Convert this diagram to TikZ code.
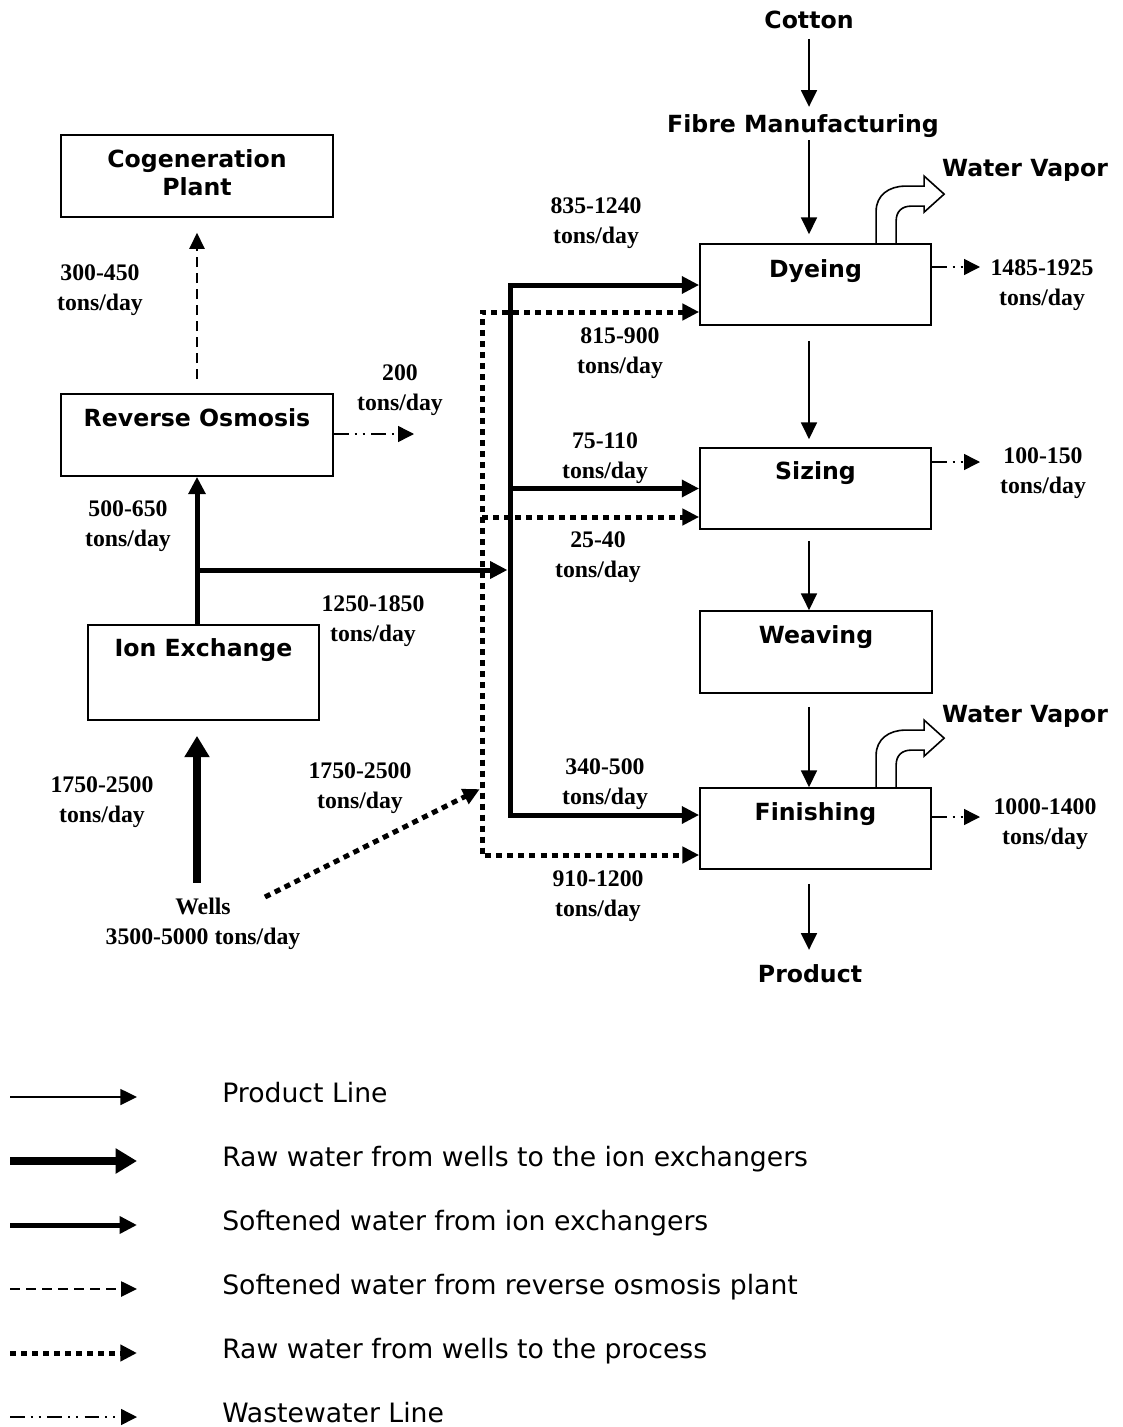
\documentclass[tikz,border=0pt]{standalone}
\usepackage{fontspec}
\newfontfamily\dvs{DejaVu Sans}
\newfontfamily\lsr{Liberation Serif}
\usetikzlibrary{arrows.meta}
\tikzset{
  box/.style={draw, line width=1.3pt, minimum width=173.25pt, minimum height=60.75pt, inner sep=0pt},
  btxt/.style={font={\dvs\bfseries\fontsize{17.7}{21}\selectfont}, inner sep=0pt, text height=12.9pt, text depth=0pt},
  btxttwo/.style={font={\dvs\bfseries\fontsize{17.7}{21}\selectfont}, inner sep=0pt, align=center},
  num/.style={font={\lsr\bfseries\fontsize{17.8}{22.5}\selectfont}, align=center, inner sep=0pt},
  legtxt/.style={font={\dvs\fontsize{20}{24}\selectfont}, anchor=west, inner sep=0pt, text height=14.6pt, text depth=0pt},
  prod/.style={line width=1.1pt, -{Triangle[length=12.5pt,width=12pt]}},
  raw/.style={line width=6pt, -{Triangle[length=16pt,width=18pt]}},
  soft/.style={line width=3.75pt, -{Triangle[length=13pt,width=12.5pt]}},
  softtwo/.style={line width=3.75pt, {Triangle[length=13pt,width=12.5pt]}-{Triangle[length=13pt,width=12.5pt]}},
  rowater/.style={line width=1.2pt, dash pattern=on 7.5pt off 4.5pt, -{Triangle[length=12pt,width=11.5pt]}},
  dotline/.style={line width=3.75pt, dash pattern=on 4.5pt off 3.75pt, -{Triangle[length=12.5pt,width=12pt]}},
  dottwo/.style={line width=3.75pt, dash pattern=on 4.5pt off 3.75pt, {Triangle[length=12.5pt,width=12pt]}-{Triangle[length=12.5pt,width=12pt]}},
  waste/.style={line width=1.1pt, dash pattern=on 11pt off 4.5pt on 1.5pt off 4.5pt on 1.5pt off 5pt, -{Triangle[length=12pt,width=12pt]}},
  vaporline/.style={line width=1.2pt, line join=miter},
  vapor/.pic={\draw[vaporline] (0,0) -- (0,-32) .. controls (0,-48) and (13,-57) .. (29,-57) -- (48,-57) -- (48,-67) -- (68,-49) -- (48,-31) -- (48,-37) -- (35,-37) .. controls (26,-37) and (20,-32) .. (20,-22) -- (20,0);}
}
\begin{document}
\begin{tikzpicture}[x=0.75pt,y=-0.75pt]
\useasboundingbox (0,0) rectangle (1122,1427);

% boxes
\node[box, minimum width=204pt, minimum height=61.5pt] (cog) at (197,176) {};
\node[box, minimum width=204pt, minimum height=61.5pt] (ro) at (197,435) {};
\node[box, minimum height=71.25pt] (ion) at (203.5,672.5) {};
\node[box] (dye) at (815.5,284.5) {};
\node[box] (siz) at (815.5,488.5) {};
\node[box, minimum width=174pt, minimum height=61.5pt] (wea) at (816,652) {};
\node[box] (fin) at (815.5,828.5) {};

\node[btxttwo] (cogT) at ([yshift=-29.25pt]cog.north) {Cogeneration\\Plant};
\node[btxt] (roT) at ([yshift=-18.75pt]ro.north) {Reverse Osmosis};
\node[btxt] (ionT) at ([yshift=-18pt]ion.north) {Ion Exchange};
\node[btxt] (dyeT) at ([yshift=-19.5pt]dye.north) {Dyeing};
\node[btxt] (sizT) at ([yshift=-18pt]siz.north) {Sizing};
\node[btxt] (weaT) at ([yshift=-18.75pt]wea.north) {Weaving};
\node[btxt] (finT) at ([yshift=-18.75pt]fin.north) {Finishing};

% free texts
\node[btxt] (cot) at (809,20) {Cotton};
\node[btxt] (fib) at (803,124) {Fibre Manufacturing};
\node[btxt] (prd) at (810,974) {Product};
\node[btxt] (wv1) at (1025,168) {Water Vapor};
\node[btxt] (wv2) at (1025,714) {Water Vapor};

% water vapor arrows
\pic at ([xshift=132.75pt]dye.north west) {vapor};
\pic at ([xshift=132.75pt]fin.north west) {vapor};

% product line
\draw[prod, shorten <=7.5pt, shorten >=6.25pt] (cot.south) -- (cot.south |- fib.north);
\draw[prod, shorten <=5.5pt, shorten >=6.75pt] (cot.south |- fib.south) -- (cot.south |- dye.north);
\draw[prod, shorten <=11.25pt, shorten >=6pt] (cot.south |- dye.south) -- (cot.south |- siz.north);
\draw[prod, shorten <=8.25pt] (cot.south |- siz.south) -- (cot.south |- wea.north);
\draw[prod, shorten <=9.75pt] (cot.south |- wea.south) -- (cot.south |- fin.north);
\draw[prod, shorten <=10.5pt, shorten >=11.5pt] (cot.south |- fin.south) -- (cot.south |- prd.north);

% labels
\node[num] (l835) at (596,223) {835-1240\\tons/day};
\node[num] (l815) at (620,353) {815-900\\tons/day};
\node[num] (l75) at (605,458) {75-110\\tons/day};
\node[num] (l25) at (598,557) {25-40\\tons/day};
\node[num] (l1250) at (373,621) {1250-1850\\tons/day};
\node[num] (l500) at (128,526) {500-650\\tons/day};
\node[num] (l200) at (400,390) {200\\tons/day};
\node[num] (l300) at (100,290) {300-450\\tons/day};
\node[num] (l1750a) at (102,802) {1750-2500\\tons/day};
\node[num] (l1750b) at (360,788) {1750-2500\\tons/day};
\node[num] (wel) at (203,924) {Wells\\3500-5000 tons/day};
\node[num] (l340) at (605,784) {340-500\\tons/day};
\node[num] (l910) at (598,896) {910-1200\\tons/day};
\node[num] (l1485) at (1042,285) {1485-1925\\tons/day};
\node[num] (l100) at (1043,473) {100-150\\tons/day};
\node[num] (l1000) at (1045,824) {1000-1400\\tons/day};

% raw water to ion exchange
\draw[raw, shorten <=11.25pt, shorten >=11.25pt] (ro.south |- wel.north) -- (ro.south |- ion.south);

% softened water
\coordinate (bt) at (510,285);
\coordinate (bb) at (510,815);
\coordinate (j1) at (197,570);
\draw[soft] (ro.south |- ion.north) -- (ro.south);
\draw[soft, shorten >=1.9pt] (j1) -- (j1 -| bt);
\draw[softtwo] (bt -| dye.west) -- (bt) -- (bb) -- (bb -| fin.west);
\draw[soft] (bt |- siz.west) -- (siz.west);

% raw water to process (dotted)
\coordinate (dt) at (482,312);
\coordinate (db) at (482,855);
\coordinate (dsz) at (482,517);
\coordinate (dw) at (482,788);
\coordinate (wd) at (265,897);
\draw[dottwo] (dt -| dye.west) -- (dt) -- (db) -- (db -| fin.west);
\draw[dotline] (dsz) -- (dsz -| siz.west);
\draw[dotline, shorten >=1.9pt] (wd) -- (dw);

% reverse osmosis to cogeneration
\draw[rowater, shorten <=10.5pt, shorten >=11.25pt] (ro.north) -- (cog.south);

% wastewater
\coordinate (w0) at (414,434);
\coordinate (w1) at (980,267);
\coordinate (w2) at (980,462);
\coordinate (w3) at (980,817);
\draw[waste] (ro.east |- w0) -- (w0);
\draw[waste] (dye.east |- w1) -- (w1);
\draw[waste] (siz.east |- w2) -- (w2);
\draw[waste] (fin.east |- w3) -- (w3);

% legend
\coordinate (la1) at (10,1097); \coordinate (lb1) at (137,1097);
\coordinate (la2) at (10,1161); \coordinate (lb2) at (137,1161);
\coordinate (la3) at (10,1225); \coordinate (lb3) at (137,1225);
\coordinate (la4) at (10,1289); \coordinate (lb4) at (137,1289);
\coordinate (la5) at (10,1353); \coordinate (lb5) at (137,1353);
\coordinate (la6) at (10,1417); \coordinate (lb6) at (137,1417);
\draw[prod] (la1) -- (lb1);
\draw[raw] (la2) -- (lb2);
\draw[soft] (la3) -- (lb3);
\draw[rowater] (la4) -- (lb4);
\draw[dotline] (la5) -- (lb5);
\draw[waste] (la6) -- (lb6);
\node[legtxt] (t1) at (222,1093) {Product Line};
\node[legtxt] (t2) at (222,1157) {Raw water from wells to the ion exchangers};
\node[legtxt] (t3) at (222,1221) {Softened water from ion exchangers};
\node[legtxt] (t4) at (222,1285) {Softened water from reverse osmosis plant};
\node[legtxt] (t5) at (222,1349) {Raw water from wells to the process};
\node[legtxt] (t6) at (222,1413) {Wastewater Line};
\end{tikzpicture}
\end{document}
